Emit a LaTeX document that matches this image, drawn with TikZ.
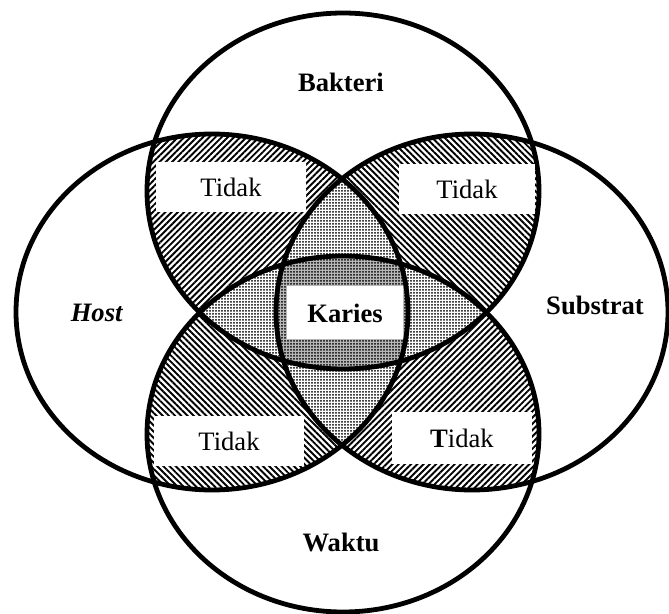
\documentclass[tikz,border=0pt]{standalone}
\usepackage{fontspec}
\setmainfont{Liberation Serif}
\usetikzlibrary{patterns.meta}

\newcommand{\bakteriset}{(343,191) ellipse [x radius=98pt, y radius=89pt]}
\newcommand{\hostset}{(212,312) ellipse [x radius=98pt, y radius=89pt]}
\newcommand{\substratset}{(472,312) ellipse [x radius=98pt, y radius=89pt]}
\newcommand{\waktuset}{(343,434) ellipse [x radius=98pt, y radius=89pt]}

\begin{document}
\begin{tikzpicture}[x=0.5pt,y=-0.5pt,
    ring/.style={line width=2.4pt},
    hatch/.style={pattern={Lines[angle=#1,distance=2.2pt,line width=0.95pt]}},
    speck/.style={pattern={Dots[distance=1.5pt,radius=0.5pt]}},
    lbl/.style={font=\fontsize{13.3}{16}\selectfont\bfseries},
    box/.style={fill=white,inner sep=0pt,minimum width=75pt,minimum height=25pt,
                font=\fontsize{13.3}{16}\selectfont}]
  \useasboundingbox (0,0) rectangle (669,614);
  % two sets
  \begin{scope}\clip \hostset; \fill[hatch=45] \bakteriset; \end{scope}
  \begin{scope}\clip \substratset; \fill[hatch=-45] \bakteriset; \end{scope}
  \begin{scope}\clip \hostset; \fill[hatch=-45] \waktuset; \end{scope}
  \begin{scope}\clip \substratset; \fill[hatch=45] \waktuset; \end{scope}
  % three sets
  \begin{scope}\clip \hostset; \clip \bakteriset; \fill[white] \substratset; \fill[speck] \substratset; \end{scope}
  \begin{scope}\clip \hostset; \clip \waktuset; \fill[white] \substratset; \fill[speck] \substratset; \end{scope}
  \begin{scope}\clip \hostset; \clip \bakteriset; \fill[white] \waktuset; \fill[speck] \waktuset; \end{scope}
  \begin{scope}\clip \substratset; \clip \bakteriset; \fill[white] \waktuset; \fill[speck] \waktuset; \end{scope}
  % all four
  \begin{scope}
    \clip \hostset; \clip \bakteriset; \clip \substratset;
    \fill[gray!55] \waktuset; \fill[speck] \waktuset;
  \end{scope}
  \draw[ring] \bakteriset;
  \draw[ring] \hostset;
  \draw[ring] \substratset;
  \draw[ring] \waktuset;

  \node[lbl] (bakteri) at (341,82) {Bakteri};
  \node[lbl] (host) at (97,313) {\textit{Host}};
  \node[lbl] (substrat) at (595,305) {Substrat};
  \node[lbl] (waktu) at (341,542) {Waktu};
  \node[box] (bh) at (231,187) {Tidak};
  \node[box,minimum width=68pt] (bs) at (467,189) {Tidak};
  \node[box] (hw) at (229,441) {Tidak};
  \node[box,minimum width=70pt,minimum height=26pt] (sw) at (462,438) {\textbf{T}idak};
  \node[box,lbl,minimum width=58pt,minimum height=26.5pt] (karies) at (345,313) {Karies};
\end{tikzpicture}
\end{document}
